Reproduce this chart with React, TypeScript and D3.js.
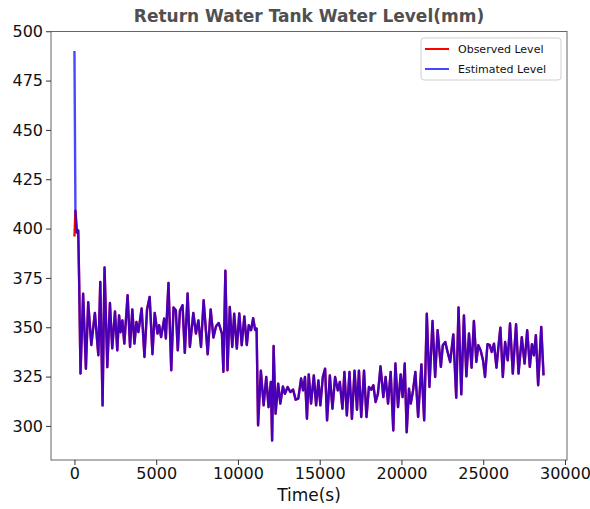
import React, { useRef, useEffect } from "react";
import * as d3 from "d3";

// time stamps (s) and levels (mm)
const timeSec = [
  0, 60, 150, 230, 290, 370, 530, 700, 840, 1030, 1250, 1460, 1580, 1720, 1840, 2010, 2170, 2310, 2480,
  2620, 2730, 2820, 2930, 3050, 3250, 3400, 3540, 3670, 3790, 3910, 4110, 4280, 4440, 4600, 4770, 4910,
  5080, 5180, 5300, 5490, 5590, 5750, 5920, 6060, 6200, 6320, 6450, 6610, 6750, 6920, 7060, 7270, 7430,
  7580, 7740, 7900, 8150, 8330, 8500, 8660, 8820, 9020, 9110, 9230, 9360, 9500, 9650, 9770, 9930, 10080,
  10230, 10390, 10540, 10660, 10800, 10930, 11050, 11140, 11230, 11400, 11570, 11730, 11870, 12010, 12090,
  12180, 12300, 12460, 12590, 12750, 12870, 13040, 13200, 13370, 13530, 13690, 13860, 13980, 14100, 14220,
  14330, 14470, 14640, 14780, 14920, 15040, 15190, 15330, 15450, 15620, 15780, 15940, 16110, 16230, 16390,
  16510, 16660, 16820, 16970, 17130, 17280, 17400, 17540, 17710, 17860, 18010, 18150, 18280, 18420, 18560,
  18720, 18890, 19030, 19180, 19340, 19500, 19630, 19790, 19950, 20070, 20200, 20320, 20460, 20570, 20710,
  20850, 21020, 21220, 21390, 21550, 21710, 21900, 22060, 22210, 22410, 22530, 22680, 22820, 22980, 23170,
  23350, 23490, 23660, 23820, 23970, 24130, 24290, 24430, 24580, 24700, 24840, 24990, 25110, 25260, 25400,
  25520, 25660, 25810, 25930, 26050, 26200, 26340, 26500, 26640, 26810, 27010, 27160, 27360, 27530, 27690,
  27850, 27980, 28100, 28220, 28360, 28550, 28690,
];

const observedLevel = [
  396, 409, 398, 399, 372, 326.6, 367, 329, 362.7, 341, 357.3, 335.8, 373, 310.4, 380.3, 329.8, 362.3, 339.3,
  358, 338.3, 356, 347.5, 353.5, 341.7, 366.3, 340, 359, 341.7, 352.7, 347.6, 359.5, 334.9, 359, 365.4, 336.3,
  357.3, 346.8, 351, 345, 354.4, 344.3, 372.5, 328.2, 360, 358.6, 338.3, 358.3, 361.2, 337, 367.1, 340, 357.3,
  346.8, 353.5, 340, 363.7, 336.3, 359, 344.8, 350.5, 352.2, 346.8, 327.4, 378.6, 328.2, 360.3, 340, 356.9,
  339.2, 357, 340.9, 355.5, 341, 351, 348.5, 354.6, 348.6, 349.3, 300.3, 328, 310.4, 324.8, 309.5, 322.3,
  292.6, 340.5, 306.2, 321.4, 311.3, 320, 316.3, 319.7, 317.2, 318.4, 313.3, 313.8, 324, 318, 324.8, 303.6,
  326.1, 311.3, 325.6, 310.4, 323, 310.4, 324.8, 329, 302.8, 325.6, 308.7, 324.8, 318, 322.3, 308.7, 327.4,
  305.3, 327.4, 303.6, 328, 308.2, 328, 304.5, 328, 304.5, 319.7, 318.4, 320.6, 312.1, 316.3, 330.2, 314.6,
  324.8, 311.3, 327.4, 297.7, 331.6, 309.5, 326.1, 314.6, 331.6, 296.8, 318.9, 311.3, 318, 327.4, 304.5,
  331.2, 302.8, 356.9, 319.7, 353.2, 324.8, 348.5, 329.9, 340.9, 342.5, 337.5, 332.4, 346.4, 314.3, 360, 316,
  356, 325.1, 346.8, 329.5, 353.2, 332.4, 340.9, 338.3, 333.2, 324.8, 341.4, 340.9, 337.5, 341.7, 329.5, 340,
  349.8, 324.8, 342.5, 333.2, 351.9, 326.5, 351.5, 326.5, 345, 331.6, 348.5, 329.9, 341.4, 335.8, 346, 320.6,
  350.2, 325.6,
];

// the estimate starts high and then follows the observation
const estimatedLevel = [490, ...observedLevel.slice(1)];

const xTicks = [0, 5000, 10000, 15000, 20000, 25000, 30000];
const yTicks = [300, 325, 350, 375, 400, 425, 450, 475, 500];
const seriesNames = ["Observed Level", "Estimated Level"];
const seriesColors = ["#ff0000", "rgba(0,0,255,0.72)"];

const App = () => {
  const svgRef = useRef(null);

  useEffect(() => {
    const width = 590;
    const height = 509;
    const margin = { top: 31.5, right: 23, bottom: 49, left: 51 };
    const font = "DejaVu Sans, sans-serif";

    const svg = d3.select(svgRef.current);
    svg.selectAll("*").remove();

    const [tMin, tMax] = d3.extent(timeSec);
    const allLevels = observedLevel.concat(estimatedLevel);
    const [vMin, vMax] = d3.extent(allLevels);
    const padT = (tMax - tMin) * 0.05;
    const padV = (vMax - vMin) * 0.05;

    const x = d3
      .scaleLinear()
      .domain([tMin - padT, tMax + padT])
      .range([margin.left, width - margin.right]);
    const y = d3
      .scaleLinear()
      .domain([vMin - padV, vMax + padV])
      .range([height - margin.bottom, margin.top]);

    const line = d3
      .line()
      .x((d) => x(d[0]))
      .y((d) => y(d[1]));

    [observedLevel, estimatedLevel].forEach((vals, i) => {
      svg
        .append("path")
        .datum(timeSec.map((t, j) => [t, vals[j]]))
        .attr("fill", "none")
        .attr("stroke", seriesColors[i])
        .attr("stroke-width", 2.4)
        .attr("stroke-linejoin", "round")
        .attr("d", line);
    });

    // frame
    svg
      .append("rect")
      .attr("x", margin.left)
      .attr("y", margin.top)
      .attr("width", width - margin.left - margin.right)
      .attr("height", height - margin.top - margin.bottom)
      .attr("fill", "none")
      .attr("stroke", "#666")
      .attr("stroke-width", 1);

    const xAxis = svg
      .append("g")
      .attr("transform", `translate(0,${height - margin.bottom})`)
      .call(d3.axisBottom(x).tickValues(xTicks).tickSize(5).tickPadding(3).tickFormat(d3.format("d")));
    const yAxis = svg
      .append("g")
      .attr("transform", `translate(${margin.left},0)`)
      .call(d3.axisLeft(y).tickValues(yTicks).tickSize(5).tickPadding(3).tickFormat(d3.format("d")));

    [xAxis, yAxis].forEach((g) => {
      g.select(".domain").remove();
      g.selectAll("line").attr("stroke", "#333");
      g.selectAll("text").attr("font-family", font).attr("font-size", 16).attr("fill", "#111");
    });

    svg
      .append("text")
      .attr("x", (margin.left + width - margin.right) / 2)
      .attr("y", 22)
      .attr("text-anchor", "middle")
      .attr("font-family", font)
      .attr("font-weight", "bold")
      .attr("font-size", 17)
      .attr("fill", "#505050")
      .text("Return Water Tank Water Level(mm)");

    svg
      .append("text")
      .attr("x", (margin.left + width - margin.right) / 2)
      .attr("y", 501)
      .attr("text-anchor", "middle")
      .attr("font-family", font)
      .attr("font-size", 17)
      .attr("fill", "#111")
      .text("Time(s)");

    // legend
    const legend = svg.append("g").attr("transform", "translate(421,38)");
    legend
      .append("rect")
      .attr("width", 140)
      .attr("height", 42)
      .attr("rx", 3)
      .attr("fill", "white")
      .attr("fill-opacity", 0.8)
      .attr("stroke", "#d0d0d0");
    seriesNames.forEach((name, i) => {
      const row = legend.append("g").attr("transform", `translate(0,${11 + i * 20})`);
      row
        .append("line")
        .attr("x1", 4)
        .attr("x2", 28)
        .attr("stroke", seriesColors[i])
        .attr("stroke-width", 2);
      row
        .append("text")
        .attr("x", 37)
        .attr("dy", "0.35em")
        .attr("font-family", font)
        .attr("font-size", 11)
        .attr("fill", "#111")
        .text(name);
    });
  }, []);

  return (
    <svg
      ref={svgRef}
      width={590}
      height={509}
      style={{ position: "absolute", left: 0, top: 0, background: "white" }}
    ></svg>
  );
};

export default App;
